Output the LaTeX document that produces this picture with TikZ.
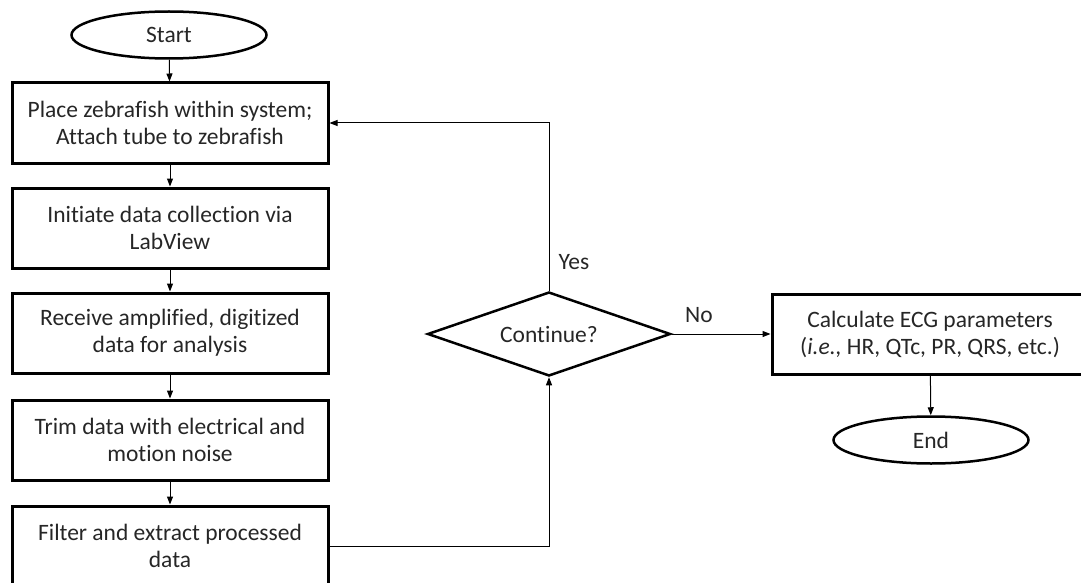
\documentclass[tikz,border=0pt]{standalone}
\usepackage{fontspec}
\setmainfont{Carlito}[Ligatures=NoCommon]
\usetikzlibrary{shapes.geometric,arrows.meta}
\begin{document}
\begin{tikzpicture}[x=1pt,y=-1pt,
    every node/.style={font=\fontsize{23.5}{27}\selectfont,text=black!85},
    stepbox/.style={shape=rectangle,draw=black,line width=3pt,minimum width=316pt,minimum height=80pt,align=center,inner sep=0pt},
    terminal/.style={shape=ellipse,draw=black,line width=2.5pt,minimum width=195pt,minimum height=47pt,inner sep=0pt},
    decision/.style={shape=diamond,shape aspect=2.9,draw=black,line width=2.5pt,minimum width=243pt,minimum height=84pt,inner sep=0pt},
    link/.style={draw=black,line width=1pt,-{Triangle[length=8pt,width=6pt]}}]
        \useasboundingbox (0,0) rectangle (1081,583);
        \clip (0,0) rectangle (1081,583);
        \node[terminal] (start) at (169,35) {Start};
        \node[stepbox] (place) at (170,123) {Place zebrafish within system;\\Attach tube to zebrafish};
        \node[stepbox] (init) at (170,228) {Initiate data collection via\\LabView};
        \node[stepbox] (recv) at (170,333) {Receive amplified, digitized\\data for analysis};
        \node[stepbox] (trim) at (170,440) {Trim data with electrical and\\motion noise};
        \node[stepbox] (filt) at (170,546) {Filter and extract processed\\data};
        \node[decision] (cont) at (549,334) {Continue?};
        \node[stepbox] (calc) at (930,334) {Calculate ECG parameters\\(\textit{i.e.,} HR, QTc, PR, QRS, etc.)};
        \node[terminal] (end) at (931,440) {End};
        \node (yes) at (574,262) {Yes};
        \node (no) at (699,315) {No};
        \path [link](start) edge (place);
        \path [link](place) edge (init);
        \path [link](init) edge (recv);
        \path [link](recv) edge (trim);
        \path [link](trim) edge (filt);
        \draw [link](filt.east) -| (cont.south);
        \draw [link](cont.north) |- (place.east);
        \path [link](cont) edge (calc);
        \path [link](calc) edge (end);
    \end{tikzpicture}
\end{document}
